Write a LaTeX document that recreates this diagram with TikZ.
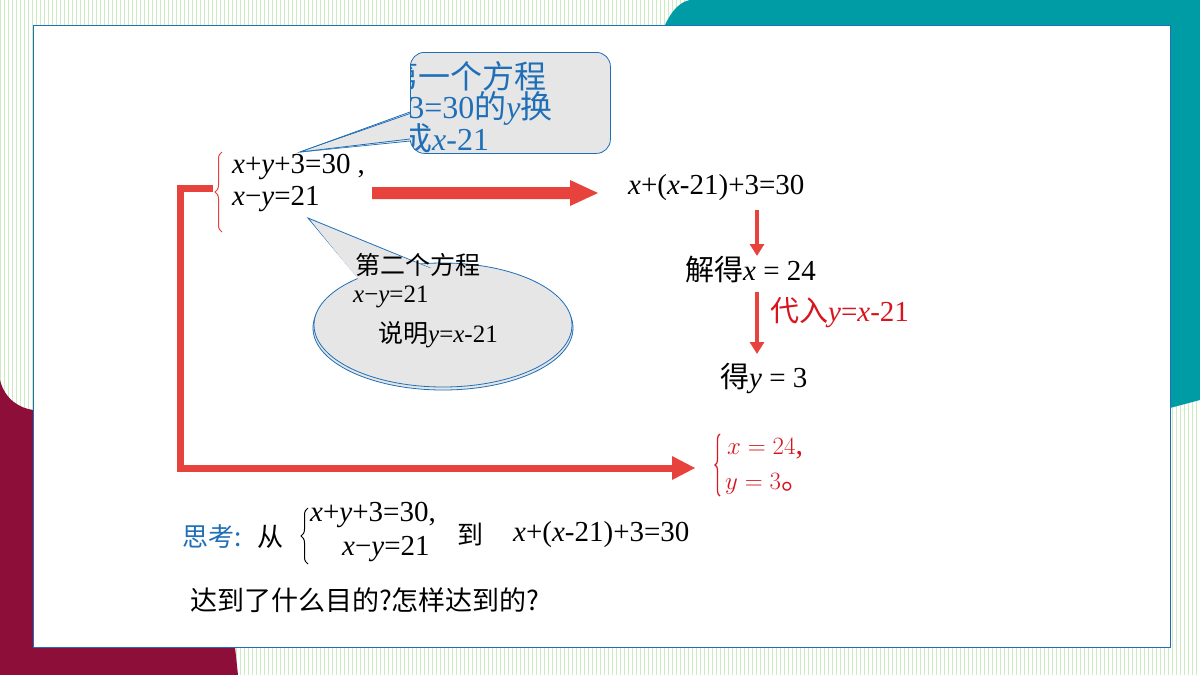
\documentclass[tikz,border=0pt]{standalone}
\usepackage{fontspec}
\setmainfont{Liberation Serif}
\newfontfamily\cjk{Noto Sans CJK SC}
\usetikzlibrary{shapes.geometric,arrows.meta,decorations.pathreplacing,calc}
\definecolor{tealc}{HTML}{009CA6}
\definecolor{maroon}{HTML}{8E0E3A}
\definecolor{redc}{HTML}{E8423C}
\definecolor{solred}{HTML}{D8141E}
\definecolor{bluec}{HTML}{1F6FB8}
\definecolor{grayc}{HTML}{E6E6E6}
\definecolor{stripe}{HTML}{CDEBC0}
\tikzset{
 txt/.style={inner sep=0pt,anchor=west,font=\fontsize{29}{32}\selectfont},
 mid/.style={inner sep=0pt,anchor=west,font=\fontsize{25}{28}\selectfont},
 ctxt/.style={inner sep=0pt,anchor=west,text=bluec,font=\fontsize{32}{34}\selectfont},
 bigarrow/.style={draw=none,fill=redc},
 redline/.style={draw=redc,line width=7pt},
 callout/.style={draw=bluec,fill=grayc,line width=0.8pt},
}
\newcommand{\iv}[1]{{\rmfamily\itshape #1}}
\begin{document}
\begin{tikzpicture}[x=1pt,y=-1pt]
\useasboundingbox (0,0) rectangle (1200,675);
% background
\fill[white] (0,0) rectangle (1200,675);
\foreach \i in {0,4,...,1200} \draw[stripe,line width=0.8pt] (\i,0) -- (\i,675);
\fill[tealc] (690,0) -- (1200,0) -- (1200,400) -- (1170,408) -- (1170,25) -- (665,25) .. controls (672,10) and (680,2) .. (690,0) -- cycle;
\fill[maroon] (0,380) .. controls (5,400) and (20,408) .. (33,410) -- (33,647) -- (235,647) -- (238,675) -- (0,675) -- cycle;
\node[draw=bluec,fill=white,line width=1pt,minimum width=1137pt,minimum height=622pt,inner sep=0pt,anchor=north west] (panel) at (33,25) {};
% callouts
\draw[callout] (300,152) -- (420,110) -- (420,140) -- cycle;
\node[callout,rounded corners=14pt,minimum width=200pt,minimum height=101pt,anchor=north west] (c1) at (410,52) {};
\fill[grayc] (300,152) -- (422,111) -- (422,139) -- cycle;
\draw[bluec,line width=0.8pt] (300,152) -- (410,112) (300,152) -- (410,139);
\begin{scope}
\clip[rounded corners=14pt] (410,52) rectangle (610,153);
\node[ctxt] (c1a) at (386,76) {\cjk 第一个方程};
\node[ctxt] (c1b) at (390,108) {{\rmfamily +3=30}{\cjk 的}\iv{y}{\cjk 换}};
\node[ctxt] (c1c) at (400,138) {{\cjk 成}\iv{x}{\rmfamily -21}};
\end{scope}
\draw[callout] (443,328) ellipse (130pt and 62pt);
\node[callout,ellipse,minimum width=258pt,minimum height=124pt] (c2) at (443,325) {};
\draw[callout] (308,218) -- (360,280) -- (430,268) -- cycle;
\fill[grayc] (312,222) -- (362,284) -- (440,272) -- cycle;
\node[mid] (c2a) at (355,265) {\cjk 第二个方程};
\node[mid] (c2b) at (353,297) {\iv{x}−\iv{y}=21};
\node[mid] (c2c) at (378,335) {{\cjk 说明}\iv{y}=\iv{x}-21};
% system 1
\draw[redc,line width=1pt,decorate,decoration={brace,amplitude=7pt,mirror}] (222,152) -- (222,232);
\node[txt] (e1) at (232,167) {\iv{x}+\iv{y}+3=30 ,};
\node[txt] (e2) at (232,199) {\iv{x}−\iv{y}=21};
% big arrow
\fill[bigarrow] (372,187) -- (570,187) -- (570,180) -- (598,193) -- (570,206) -- (570,199) -- (372,199) -- cycle;
\node[txt] (s1) at (628,188) {\iv{x}+(\iv{x}-21)+3=30};
\node[txt] (s2) at (685,270) {{\cjk 解得}\iv{x} = 24};
\node[txt] (s3) at (720,378) {{\cjk 得}\iv{y} = 3};
\node[txt,text=solred] (s4) at (770,313) {{\cjk 代入}\iv{y}=\iv{x}-21};
\draw[redc,line width=4pt,-{Triangle[width=14pt,length=12pt]}] (757,210) -- (757,256);
\draw[redc,line width=4pt,-{Triangle[width=14pt,length=12pt]}] (757,292) -- (757,354);
% L connector
\coordinate (lt) at (213,188);
\draw[redline] (lt) -- (180,188) -- (180,468) -- (675,468);
\fill[redc] (672,456) -- (695,468) -- (672,480) -- cycle;
% solution
\draw[solred,line width=1.2pt,decorate,decoration={brace,amplitude=5pt,mirror}] (720,434) -- (720,496);
\node[inner sep=0pt,anchor=west,text=solred,font=\fontsize{30}{32}\selectfont] (r1) at (727,449) {$x=24$,};
\node[inner sep=0pt,anchor=west,text=solred,font=\fontsize{30}{32}\selectfont] (r2) at (725,484) {$y=3${\cjk 。}};
% think
\node[inner sep=0pt,anchor=west,text=bluec,font=\fontsize{26}{28}\selectfont] (t1) at (182,537) {\cjk 思考:};
\node[inner sep=0pt,anchor=west,font=\fontsize{26}{28}\selectfont] (t2) at (257,537) {\cjk 从};
\draw[black,line width=1pt,decorate,decoration={brace,amplitude=7pt,mirror}] (308,508) -- (308,564);
\node[txt] (t3) at (310,515) {\iv{x}+\iv{y}+3=30,};
\node[txt] (t4) at (342,549) {\iv{x}−\iv{y}=21};
\node[inner sep=0pt,anchor=west,font=\fontsize{26}{28}\selectfont] (t5) at (457,535) {\cjk 到};
\node[txt] (t6) at (513,535) {\iv{x}+(\iv{x}-21)+3=30};
\node[inner sep=0pt,anchor=west,font=\fontsize{27}{30}\selectfont] (t7) at (190,600) {\cjk 达到了什么目的?怎样达到的?};
\end{tikzpicture}
\end{document}
